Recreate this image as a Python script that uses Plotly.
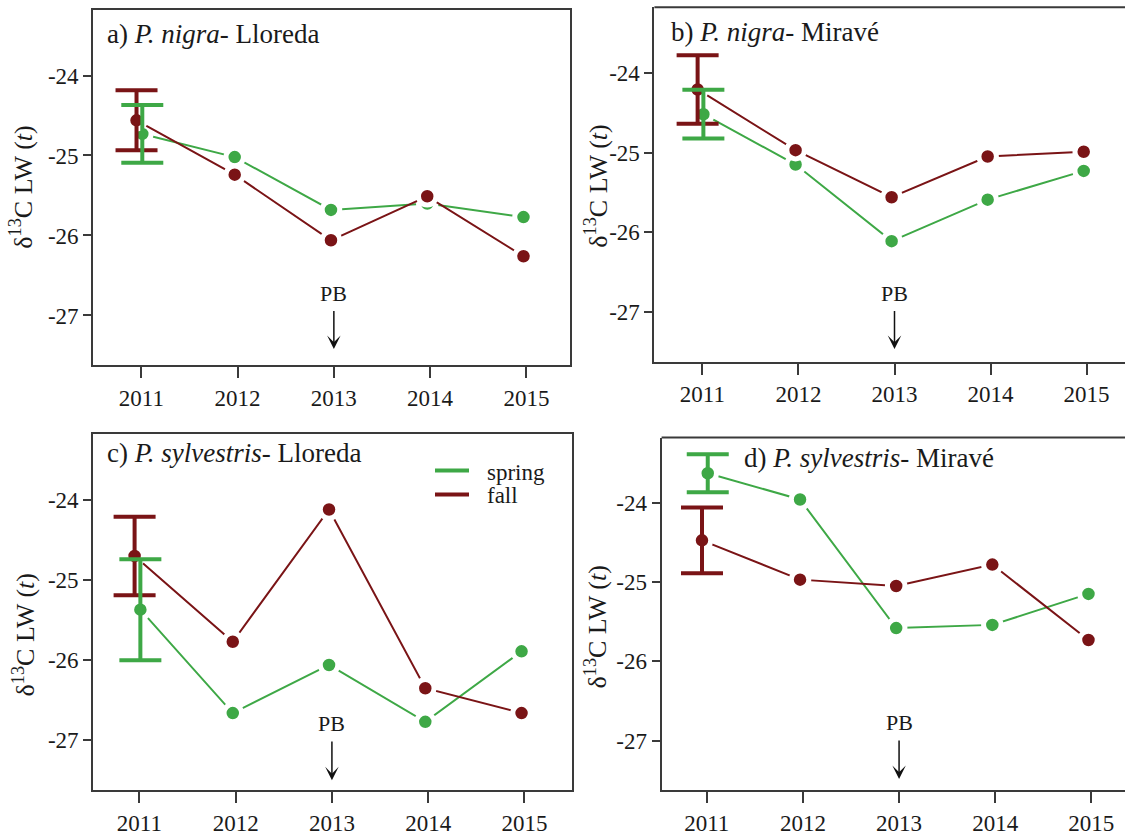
import plotly.graph_objects as go

# ---- data -------------------------------------------------------------
years = [2011, 2012, 2013, 2014, 2015]
y_ticks = [-24, -25, -26, -27]

# P. nigra - Lloreda
a_spring = [-24.73, -25.02, -25.68, -25.60, -25.77]
a_fall = [-24.56, -25.24, -26.06, -25.51, -26.26]
a_spring_err = 0.36
a_fall_err = 0.375

# P. nigra - Miravé
b_spring = [-24.52, -25.15, -26.11, -25.59, -25.23]
b_fall = [-24.21, -24.97, -25.56, -25.05, -24.99]
b_spring_err = 0.305
b_fall_err = 0.43

# P. sylvestris - Lloreda
c_spring = [-25.37, -26.66, -26.06, -26.77, -25.89]
c_fall = [-24.70, -25.77, -24.12, -26.35, -26.66]
c_spring_err = 0.63
c_fall_err = 0.49

# P. sylvestris - Miravé
d_spring = [-23.63, -23.96, -25.58, -25.54, -25.15]
d_fall = [-24.475, -24.97, -25.05, -24.78, -25.73]
d_spring_err = 0.24
d_fall_err = 0.415

event_year = 2013
event_label = "PB"

titles = [
    "a) <i>P. nigra</i>- Lloreda",
    "b) <i>P. nigra</i>- Miravé",
    "c) <i>P. sylvestris</i>- Lloreda",
    "d) <i>P. sylvestris</i>- Miravé",
]
y_title = "δ<sup>13</sup>C LW (<i>t</i>)"

# ---- styling ----------------------------------------------------------
W, H = 1125, 836
GREEN = "#3ea846"
RED = "#7a1416"
FRAME = "#3a3a3a"
TEXT = "#1a1a1a"
FONT = "Liberation Serif"


def px_x(p):
    return p / W


def px_y(p):
    return 1 - p / H


# panel boxes in pixels: left, right, top, bottom, x-range
panels = [
    dict(l=93.2, r=569.7, t=10.0, b=367.7, xr=[2010.50, 2015.45], closed=True,
         title_xy=(105, 34), ytitle_xy=(22, 189), pb=(-26.72, -27.42)),
    dict(l=654.4, r=1125, t=7.3, b=364.3, xr=[2010.50, 2015.40], closed=False,
         title_xy=(669, 32), ytitle_xy=(597, 188), pb=(-26.76, -27.46)),
    dict(l=93.2, r=571.6, t=437.3, b=795.7, xr=[2010.52, 2015.49], closed=True,
         title_xy=(105, 456), ytitle_xy=(24, 640), pb=(-26.79, -27.50)),
    dict(l=661.6, r=1125, t=440.7, b=795.7, xr=[2010.53, 2015.35], closed=False,
         title_xy=(742, 461), ytitle_xy=(596, 632), pb=(-26.77, -27.48)),
]
Y_RANGE = [-27.62, -23.18]

series = [
    (a_spring, a_fall, a_spring_err, a_fall_err),
    (b_spring, b_fall, b_spring_err, b_fall_err),
    (c_spring, c_fall, c_spring_err, c_fall_err),
    (d_spring, d_fall, d_spring_err, d_fall_err),
]

# small horizontal dodge so the two series do not sit exactly on top of each other
FIRST_SHIFT = {"spring": 0.01, "fall": -0.05}
REST_SHIFT = -0.03


def shifted(kind):
    return [yr + (FIRST_SHIFT[kind] if i == 0 else REST_SHIFT) for i, yr in enumerate(years)]


fig = go.Figure()
layout = dict(
    width=W, height=H,
    margin=dict(l=0, r=0, t=0, b=0),
    paper_bgcolor="white", plot_bgcolor="white",
    showlegend=False,
    font=dict(family=FONT, color=TEXT),
    annotations=[], shapes=[],
)

for k, (p, (spr, fal, spr_e, fal_e)) in enumerate(zip(panels, series), start=1):
    xa = "x" if k == 1 else f"x{k}"
    ya = "y" if k == 1 else f"y{k}"
    xkey = "xaxis" if k == 1 else f"xaxis{k}"
    ykey = "yaxis" if k == 1 else f"yaxis{k}"

    layout[xkey] = dict(
        domain=[px_x(p["l"]), min(1.0, px_x(p["r"]))], anchor=ya,
        range=p["xr"], tickvals=years, ticktext=[str(v) for v in years],
        ticks="outside", ticklen=11, tickwidth=2, tickcolor=FRAME,
        showline=True, linecolor=FRAME, linewidth=2,
        mirror=p["closed"], showgrid=False, zeroline=False,
        tickfont=dict(family=FONT, size=23, color=TEXT),
    )
    layout[ykey] = dict(
        domain=[px_y(p["b"]), px_y(p["t"])], anchor=xa,
        range=Y_RANGE, tickvals=y_ticks, ticktext=[str(v) for v in y_ticks],
        ticks="outside", ticklen=8, tickwidth=2, tickcolor=FRAME,
        showline=True, linecolor=FRAME, linewidth=2,
        mirror=p["closed"], showgrid=False, zeroline=False,
        tickfont=dict(family=FONT, size=23, color=TEXT),
    )
    if not p["closed"]:
        layout["shapes"].append(dict(
            type="line", xref=f"{xa} domain", yref=f"{ya} domain",
            x0=0, x1=1, y0=1, y1=1, line=dict(color=FRAME, width=2)))

    # lines with gaps around the points (white halo on markers)
    for vals, color, kind in ((spr, GREEN, "spring"), (fal, RED, "fall")):
        fig.add_trace(go.Scatter(
            x=shifted(kind), y=vals, xaxis=xa, yaxis=ya, mode="lines+markers",
            line=dict(color=color, width=2),
            marker=dict(color=color, size=17.5, line=dict(color="white", width=5)),
            name=kind, hoverinfo="skip"))

    # error bars on the first year, drawn on top
    for vals, err, color, kind in ((fal, fal_e, RED, "fall"), (spr, spr_e, GREEN, "spring")):
        fig.add_trace(go.Scatter(
            x=[shifted(kind)[0]], y=[vals[0]], xaxis=xa, yaxis=ya, mode="markers",
            marker=dict(size=1, color="rgba(0,0,0,0)"),
            error_y=dict(type="constant", value=err, color=color, thickness=4, width=21),
            name=kind, hoverinfo="skip"))

    # panel title
    tx, ty = p["title_xy"]
    layout["annotations"].append(dict(
        text=titles[k - 1], xref="paper", yref="paper", x=px_x(tx), y=px_y(ty),
        xanchor="left", yanchor="middle", showarrow=False,
        font=dict(family=FONT, size=27, color=TEXT)))

    # y-axis title
    yx, yy = p["ytitle_xy"]
    layout["annotations"].append(dict(
        text=y_title, xref="paper", yref="paper", x=px_x(yx), y=px_y(yy),
        xanchor="center", yanchor="middle", textangle=-90, showarrow=False,
        font=dict(family=FONT, size=26, color=TEXT)))

    # event marker: label with an arrow pointing down to the axis
    pb_text, pb_tip = p["pb"]
    layout["annotations"].append(dict(
        text=event_label, xref=xa, yref=ya, x=event_year, y=pb_tip,
        axref=xa, ayref=ya, ax=event_year, ay=pb_text,
        showarrow=True, arrowhead=3, arrowsize=1.5, arrowwidth=1.5,
        arrowcolor="#111111", standoff=0, startstandoff=4,
        font=dict(family=FONT, size=22, color=TEXT)))

# legend drawn inside panel c
legend_items = [("spring", GREEN, 474, 476), ("fall", RED, 498, 499)]
for label, color, ly, ty in legend_items:
    layout["shapes"].append(dict(
        type="line", xref="paper", yref="paper",
        x0=px_x(435), x1=px_x(469), y0=px_y(ly), y1=px_y(ly),
        line=dict(color=color, width=4)))
    layout["annotations"].append(dict(
        text=label, xref="paper", yref="paper", x=px_x(485), y=px_y(ty),
        xanchor="left", yanchor="middle", showarrow=False,
        font=dict(family=FONT, size=23, color=TEXT)))

fig.update_layout(**layout)
fig.write_html("out.html")
